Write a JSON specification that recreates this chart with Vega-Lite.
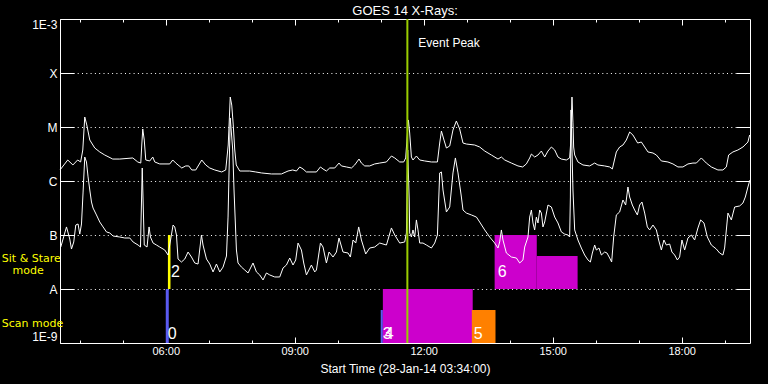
{
"$schema":"https://vega.github.io/schema/vega-lite/v6.json",
"width":690,"height":324,
"autosize":{"type":"none"},
"padding":{"left":60,"top":19,"right":18,"bottom":41},
"background":"black",
"title":{"text":"GOES 14 X-Rays:","color":"white","font":"Liberation Sans","fontSize":13,"fontWeight":"normal","anchor":"middle","baseline":"alphabetic","offset":-10},
"config":{"view":{"stroke":"white","strokeWidth":1},"axis":{"labelFont":"Liberation Sans","labelFontSize":11,"labelColor":"white","tickColor":"white","titleColor":"white","titleFont":"Liberation Sans","titleFontWeight":"normal","domain":false,"tickWidth":1}},
"datasets":{
"long":[
{"h":3.54,"f":1.6e-6},{"h":3.72,"f":2.45e-6},{"h":3.84,"f":1.98e-6},{"h":3.95,"f":2.45e-6},{"h":4.02,"f":2.25e-6},{"h":4.07,"f":3.75e-6},{"h":4.116,"f":1.53e-5},{"h":4.163,"f":1.09e-5},{"h":4.233,"f":5.74e-6},{"h":4.349,"f":4.08e-6},{"h":4.465,"f":3.45e-6},{"h":4.581,"f":3.03e-6},{"h":4.767,"f":2.55e-6},{"h":4.93,"f":2.55e-6},{"h":5.233,"f":2.67e-6},{"h":5.349,"f":2.25e-6},{"h":5.419,"f":2.15e-6},{"h":5.442,"f":4.64e-6},{"h":5.465,"f":9.18e-6},{"h":5.5,"f":5.74e-6},{"h":5.535,"f":2.45e-6},{"h":5.628,"f":2.35e-6},{"h":5.698,"f":2.78e-6},{"h":5.744,"f":2.25e-6},{"h":5.86,"f":2.07e-6},{"h":6.093,"f":2.07e-6},{"h":6.163,"f":2.45e-6},{"h":6.233,"f":2.15e-6},{"h":6.372,"f":1.74e-6},{"h":6.465,"f":1.9e-6},{"h":6.535,"f":1.9e-6},{"h":6.605,"f":1.6e-6},{"h":6.698,"f":1.6e-6},{"h":6.837,"f":2.45e-6},{"h":6.93,"f":1.98e-6},{"h":7.023,"f":1.74e-6},{"h":7.14,"f":1.6e-6},{"h":7.302,"f":1.47e-6},{"h":7.395,"f":1.6e-6},{"h":7.453,"f":4.64e-6},{"h":7.5,"f":3.59e-5},{"h":7.535,"f":2.55e-5},{"h":7.57,"f":1.09e-5},{"h":7.605,"f":3.75e-6},{"h":7.64,"f":1.98e-6},{"h":7.721,"f":1.53e-6},{"h":7.953,"f":1.53e-6},{"h":8.093,"f":1.47e-6},{"h":8.226,"f":1.41e-6},{"h":8.458,"f":1.35e-6},{"h":8.691,"f":1.35e-6},{"h":8.844,"f":1.53e-6},{"h":8.953,"f":1.6e-6},{"h":9.04,"f":1.53e-6},{"h":9.116,"f":1.82e-6},{"h":9.193,"f":1.67e-6},{"h":9.272,"f":1.47e-6},{"h":9.505,"f":1.47e-6},{"h":9.598,"f":1.82e-6},{"h":9.658,"f":1.67e-6},{"h":9.737,"f":1.53e-6},{"h":9.814,"f":1.74e-6},{"h":9.93,"f":1.74e-6},{"h":10.03,"f":2.15e-6},{"h":10.086,"f":1.9e-6},{"h":10.202,"f":1.82e-6},{"h":10.319,"f":1.74e-6},{"h":10.395,"f":1.98e-6},{"h":10.495,"f":2.55e-6},{"h":10.551,"f":2.15e-6},{"h":10.628,"f":1.9e-6},{"h":10.744,"f":1.9e-6},{"h":10.86,"f":2.07e-6},{"h":10.977,"f":2.15e-6},{"h":11.133,"f":2.25e-6},{"h":11.249,"f":2.9e-6},{"h":11.326,"f":2.67e-6},{"h":11.442,"f":2.25e-6},{"h":11.535,"f":2.25e-6},{"h":11.581,"f":2.67e-6},{"h":11.605,"f":5.05e-6},{"h":11.644,"f":1.35e-5},{"h":11.674,"f":7.74e-6},{"h":11.714,"f":2.78e-6},{"h":11.751,"f":2.45e-6},{"h":11.83,"f":2.9e-6},{"h":11.907,"f":2.45e-6},{"h":12.023,"f":2.35e-6},{"h":12.179,"f":2.25e-6},{"h":12.319,"f":2.25e-6},{"h":12.372,"f":5.05e-6},{"h":12.412,"f":8.43e-6},{"h":12.472,"f":5.74e-6},{"h":12.528,"f":4.08e-6},{"h":12.605,"f":4.45e-6},{"h":12.681,"f":8.8e-6},{"h":12.76,"f":1.29e-5},{"h":12.837,"f":9.18e-6},{"h":12.914,"f":5.05e-6},{"h":12.993,"f":4.84e-6},{"h":13.186,"f":4.64e-6},{"h":13.302,"f":4.26e-6},{"h":13.419,"f":3.59e-6},{"h":13.574,"f":3.03e-6},{"h":13.728,"f":2.55e-6},{"h":13.807,"f":2.78e-6},{"h":13.884,"f":2.45e-6},{"h":14.04,"f":2.15e-6},{"h":14.193,"f":1.9e-6},{"h":14.302,"f":1.82e-6},{"h":14.388,"f":2.07e-6},{"h":14.465,"f":2.67e-6},{"h":14.505,"f":3.16e-6},{"h":14.581,"f":2.78e-6},{"h":14.658,"f":3.03e-6},{"h":14.737,"f":3.59e-6},{"h":14.814,"f":2.78e-6},{"h":14.891,"f":3.59e-6},{"h":14.97,"f":4.26e-6},{"h":15.047,"f":3.75e-6},{"h":15.123,"f":2.78e-6},{"h":15.202,"f":2.55e-6},{"h":15.319,"f":2.45e-6},{"h":15.395,"f":2.67e-6},{"h":15.419,"f":5.05e-6},{"h":15.449,"f":3.59e-5},{"h":15.472,"f":1.19e-5},{"h":15.488,"f":4.26e-6},{"h":15.512,"f":3.03e-6},{"h":15.588,"f":2.25e-6},{"h":15.705,"f":1.98e-6},{"h":15.86,"f":1.9e-6},{"h":15.977,"f":2.15e-6},{"h":16.053,"f":1.98e-6},{"h":16.209,"f":1.9e-6},{"h":16.326,"f":1.82e-6},{"h":16.388,"f":1.67e-6},{"h":16.481,"f":3.45e-6},{"h":16.558,"f":4.26e-6},{"h":16.635,"f":4.64e-6},{"h":16.714,"f":5.74e-6},{"h":16.791,"f":8.08e-6},{"h":16.867,"f":7.1e-6},{"h":16.977,"f":5.05e-6},{"h":17.063,"f":5.27e-6},{"h":17.14,"f":4.26e-6},{"h":17.216,"f":3.45e-6},{"h":17.333,"f":3.3e-6},{"h":17.412,"f":3.03e-6},{"h":17.528,"f":2.35e-6},{"h":17.681,"f":2.25e-6},{"h":17.798,"f":2.07e-6},{"h":17.914,"f":1.82e-6},{"h":18.03,"f":1.82e-6},{"h":18.147,"f":2.07e-6},{"h":18.263,"f":2.15e-6},{"h":18.342,"f":2.15e-6},{"h":18.458,"f":2.67e-6},{"h":18.574,"f":2.15e-6},{"h":18.691,"f":1.82e-6},{"h":18.844,"f":1.6e-6},{"h":18.96,"f":1.6e-6},{"h":19.04,"f":1.82e-6},{"h":19.093,"f":3.03e-6},{"h":19.193,"f":3.45e-6},{"h":19.309,"f":3.75e-6},{"h":19.426,"f":4.26e-6},{"h":19.542,"f":5.27e-6},{"h":19.581,"f":7.1e-6}
],
"short":[
{"h":3.558,"f":5.99e-8},{"h":3.691,"f":1.41e-7},{"h":3.767,"f":8.43e-8},{"h":3.807,"f":5.5e-8},{"h":3.86,"f":7.42e-8},{"h":3.907,"f":1.53e-7},{"h":3.96,"f":1.6e-7},{"h":4.0,"f":1.04e-7},{"h":4.04,"f":1.6e-7},{"h":4.077,"f":6.25e-7},{"h":4.116,"f":2.78e-6},{"h":4.156,"f":2.25e-6},{"h":4.193,"f":1.19e-6},{"h":4.233,"f":6.81e-7},{"h":4.272,"f":4.08e-7},{"h":4.309,"f":3.16e-7},{"h":4.388,"f":2.35e-7},{"h":4.465,"f":1.74e-7},{"h":4.542,"f":1.41e-7},{"h":4.621,"f":1.14e-7},{"h":4.698,"f":1.09e-7},{"h":4.774,"f":9.58e-8},{"h":4.93,"f":9.18e-8},{"h":5.047,"f":8.8e-8},{"h":5.163,"f":8.8e-8},{"h":5.24,"f":7.42e-8},{"h":5.356,"f":6.52e-8},{"h":5.412,"f":5.99e-8},{"h":5.453,"f":1.74e-6},{"h":5.5,"f":6.52e-8},{"h":5.565,"f":5.99e-8},{"h":5.612,"f":1.41e-7},{"h":5.644,"f":9.18e-8},{"h":5.705,"f":7.1e-8},{"h":5.784,"f":6.52e-8},{"h":5.86,"f":5.99e-8},{"h":5.977,"f":5.27e-8},{"h":6.053,"f":4.26e-8},{"h":6.17,"f":1.53e-7},{"h":6.209,"f":1.41e-7},{"h":6.249,"f":1.0e-7},{"h":6.286,"f":3.59e-8},{"h":6.365,"f":3.16e-8},{"h":6.442,"f":3.59e-8},{"h":6.519,"f":4.84e-8},{"h":6.598,"f":3.91e-8},{"h":6.674,"f":3.03e-8},{"h":6.751,"f":2.9e-8},{"h":6.83,"f":1.0e-7},{"h":6.867,"f":6.52e-8},{"h":6.947,"f":3.59e-8},{"h":7.023,"f":2.9e-8},{"h":7.1,"f":2.07e-8},{"h":7.179,"f":2.9e-8},{"h":7.256,"f":2.07e-8},{"h":7.333,"f":2.55e-8},{"h":7.412,"f":4.08e-8},{"h":7.449,"f":2.15e-7},{"h":7.5,"f":1.47e-5},{"h":7.558,"f":3.75e-6},{"h":7.588,"f":6.81e-7},{"h":7.644,"f":5.27e-8},{"h":7.681,"f":3.03e-8},{"h":7.76,"f":2.55e-8},{"h":7.837,"f":2.25e-8},{"h":7.914,"f":1.98e-8},{"h":8.03,"f":3.03e-8},{"h":8.109,"f":2.07e-8},{"h":8.186,"f":1.82e-8},{"h":8.263,"f":1.47e-8},{"h":8.342,"f":1.98e-8},{"h":8.419,"f":1.82e-8},{"h":8.535,"f":1.67e-8},{"h":8.651,"f":1.67e-8},{"h":8.728,"f":2.45e-8},{"h":8.807,"f":2.78e-8},{"h":8.884,"f":3.75e-8},{"h":8.96,"f":2.78e-8},{"h":9.023,"f":3.45e-8},{"h":9.077,"f":7.1e-8},{"h":9.156,"f":5.27e-8},{"h":9.209,"f":3.03e-8},{"h":9.272,"f":1.82e-8},{"h":9.388,"f":2.78e-8},{"h":9.465,"f":2.07e-8},{"h":9.505,"f":2.25e-8},{"h":9.598,"f":7.1e-8},{"h":9.658,"f":5.99e-8},{"h":9.737,"f":3.03e-8},{"h":9.798,"f":4.84e-8},{"h":9.891,"f":3.91e-8},{"h":9.97,"f":4.84e-8},{"h":10.03,"f":8.8e-8},{"h":10.123,"f":4.84e-8},{"h":10.24,"f":4.64e-8},{"h":10.295,"f":3.91e-8},{"h":10.356,"f":8.08e-8},{"h":10.419,"f":7.1e-8},{"h":10.488,"f":1.41e-7},{"h":10.551,"f":8.08e-8},{"h":10.651,"f":4.45e-8},{"h":10.744,"f":5.74e-8},{"h":10.86,"f":5.99e-8},{"h":10.977,"f":7.1e-8},{"h":11.133,"f":6.52e-8},{"h":11.249,"f":1.35e-7},{"h":11.326,"f":1.0e-7},{"h":11.442,"f":7.1e-8},{"h":11.558,"f":7.42e-8},{"h":11.598,"f":1.09e-7},{"h":11.628,"f":3.75e-6},{"h":11.663,"f":4.45e-7},{"h":11.674,"f":1.09e-7},{"h":11.714,"f":9.18e-8},{"h":11.751,"f":1.24e-7},{"h":11.791,"f":9.18e-8},{"h":11.83,"f":1.9e-7},{"h":11.867,"f":1.24e-7},{"h":11.907,"f":7.1e-8},{"h":11.984,"f":7.1e-8},{"h":12.063,"f":6.52e-8},{"h":12.179,"f":5.74e-8},{"h":12.256,"f":7.1e-8},{"h":12.319,"f":1.0e-7},{"h":12.372,"f":1.41e-6},{"h":12.412,"f":1.47e-6},{"h":12.449,"f":6.81e-7},{"h":12.528,"f":2.67e-7},{"h":12.605,"f":3.3e-7},{"h":12.681,"f":1.41e-6},{"h":12.737,"f":2.67e-6},{"h":12.798,"f":1.41e-6},{"h":12.877,"f":5.05e-7},{"h":12.914,"f":2.9e-7},{"h":12.993,"f":2.55e-7},{"h":13.109,"f":2.35e-7},{"h":13.226,"f":2.15e-7},{"h":13.302,"f":1.74e-7},{"h":13.419,"f":1.24e-7},{"h":13.535,"f":9.18e-8},{"h":13.651,"f":7.1e-8},{"h":13.728,"f":5.74e-8},{"h":13.767,"f":7.42e-8},{"h":13.807,"f":1.24e-7},{"h":13.844,"f":8.08e-8},{"h":13.923,"f":4.64e-8},{"h":14.04,"f":3.91e-8},{"h":14.156,"f":3.75e-8},{"h":14.233,"f":3.03e-8},{"h":14.309,"f":3.45e-8},{"h":14.349,"f":5.99e-8},{"h":14.426,"f":9.18e-8},{"h":14.465,"f":2.15e-7},{"h":14.505,"f":2.9e-7},{"h":14.542,"f":1.67e-7},{"h":14.581,"f":1.24e-7},{"h":14.621,"f":2.15e-7},{"h":14.658,"f":1.67e-7},{"h":14.698,"f":2.9e-7},{"h":14.737,"f":2.55e-7},{"h":14.774,"f":1.41e-7},{"h":14.814,"f":1.74e-7},{"h":14.891,"f":3.59e-7},{"h":14.97,"f":3.3e-7},{"h":15.047,"f":2.15e-7},{"h":15.123,"f":1.67e-7},{"h":15.202,"f":1.14e-7},{"h":15.279,"f":1.04e-7},{"h":15.356,"f":1.0e-7},{"h":15.395,"f":9.18e-8},{"h":15.412,"f":5.05e-7},{"h":15.426,"f":2.07e-5},{"h":15.472,"f":6.81e-7},{"h":15.512,"f":1.24e-7},{"h":15.588,"f":8.08e-8},{"h":15.667,"f":5.74e-8},{"h":15.744,"f":4.26e-8},{"h":15.821,"f":3.45e-8},{"h":15.877,"f":3.16e-8},{"h":15.923,"f":4.64e-8},{"h":15.977,"f":6.52e-8},{"h":16.016,"f":5.27e-8},{"h":16.077,"f":5.74e-8},{"h":16.133,"f":4.26e-8},{"h":16.209,"f":4.84e-8},{"h":16.263,"f":4.64e-8},{"h":16.326,"f":3.75e-8},{"h":16.372,"f":3.16e-8},{"h":16.419,"f":9.18e-8},{"h":16.481,"f":2.35e-7},{"h":16.558,"f":2.67e-7},{"h":16.635,"f":4.45e-7},{"h":16.698,"f":3.59e-7},{"h":16.751,"f":7.74e-7},{"h":16.791,"f":5.05e-7},{"h":16.853,"f":3.59e-7},{"h":16.907,"f":2.9e-7},{"h":16.97,"f":2.35e-7},{"h":17.023,"f":3.59e-7},{"h":17.077,"f":4.08e-7},{"h":17.14,"f":2.55e-7},{"h":17.202,"f":1.41e-7},{"h":17.256,"f":1.24e-7},{"h":17.333,"f":1.53e-7},{"h":17.412,"f":1.24e-7},{"h":17.465,"f":8.08e-8},{"h":17.528,"f":5.27e-8},{"h":17.588,"f":8.08e-8},{"h":17.644,"f":6.52e-8},{"h":17.721,"f":6.81e-8},{"h":17.774,"f":4.84e-8},{"h":17.837,"f":4.26e-8},{"h":17.9,"f":3.45e-8},{"h":17.953,"f":3.91e-8},{"h":18.007,"f":8.08e-8},{"h":18.07,"f":5.27e-8},{"h":18.147,"f":8.8e-8},{"h":18.226,"f":1.0e-7},{"h":18.302,"f":8.08e-8},{"h":18.379,"f":1.35e-7},{"h":18.442,"f":1.9e-7},{"h":18.519,"f":1.67e-7},{"h":18.598,"f":9.18e-8},{"h":18.691,"f":6.52e-8},{"h":18.807,"f":5.5e-8},{"h":18.884,"f":4.64e-8},{"h":18.96,"f":4.26e-8},{"h":19.0,"f":5.74e-8},{"h":19.077,"f":2.55e-7},{"h":19.156,"f":1.9e-7},{"h":19.233,"f":3.3e-7},{"h":19.349,"f":3.45e-7},{"h":19.426,"f":3.91e-7},{"h":19.481,"f":5.05e-7},{"h":19.542,"f":7.74e-7},{"h":19.588,"f":1.04e-6}
],
"obs":[
{"obs":"0","label":"0","s":6.0,"e":6.07,"lo":1e-9,"hi":1e-8},
{"obs":"2","label":"2","s":6.05,"e":6.11,"lo":1e-8,"hi":1e-7},
{"obs":"3","label":"3","s":11.0,"e":11.05,"lo":1e-9,"hi":4.08e-9},
{"obs":"4","label":"4","s":11.05,"e":13.14,"lo":1e-9,"hi":1e-8},
{"obs":"5","label":"5","s":13.12,"e":13.67,"lo":1e-9,"hi":4.08e-9},
{"obs":"6","label":"6","s":13.65,"e":14.63,"lo":1e-8,"hi":1e-7},
{"obs":"6","label":"","s":14.63,"e":15.58,"lo":1e-8,"hi":4.08e-8}
],
"event":[{"h":11.62,"name":"Event Peak"}]
},
"resolve":{"axis":{"x":"independent","y":"independent"}},
"layer":[
{"data":{"name":"obs"},"mark":{"type":"rect"},
"encoding":{
"x":{"field":"s","type":"quantitative","scale":{"domain":[3.54,19.59],"nice":false,"zero":false},
"axis":{"orient":"bottom","values":[4,5,6,7,8,9,10,11,12,13,14,15,16,17,18,19],"labelExpr":"datum.value % 3 === 0 ? (datum.value < 10 ? '0' : '') + datum.value + ':00' : ''","labelOverlap":false,"tickSize":{"condition":{"test":"datum.value % 3 === 0","value":-6},"value":-3},"labelPadding":8,"grid":false,"title":"Start Time (28-Jan-14 03:34:00)","titleFontSize":12,"titlePadding":4}},
"x2":{"field":"e"},
"y":{"field":"lo","type":"quantitative","scale":{"type":"log","domain":[1e-9,1e-3],"nice":false},
"axis":{"orient":"left","values":[1e-9,1e-8,1e-7,1e-6,1e-5,1e-4,1e-3],"labelExpr":"datum.value > 5e-4 ? '1E-3' : datum.value > 5e-5 ? 'X' : datum.value > 5e-6 ? 'M' : datum.value > 5e-7 ? 'C' : datum.value > 5e-8 ? 'B' : datum.value > 5e-9 ? 'A' : '1E-9'","labelFlush":true,"labelOverlap":false,"labelFontSize":12,"tickSize":-14,"labelPadding":17,"grid":true,"gridColor":"white","gridOpacity":1,"gridDash":[1,3.3],"title":null}},
"y2":{"field":"hi"},
"color":{"field":"obs","type":"nominal","scale":{"domain":["0","2","3","4","5","6"],"range":["#5a5af0","#ffff00","#5a5af0","#cc00cc","#ff8000","#cc00cc"]},"legend":null}
}},
{"data":{"name":"long"},"mark":{"type":"line","color":"white","strokeWidth":1},
"encoding":{
"x":{"field":"h","type":"quantitative","axis":{"orient":"top","values":[4,5,6,7,8,9,10,11,12,13,14,15,16,17,18,19],"labels":false,"title":null,"grid":false,"tickSize":{"condition":{"test":"datum.value % 3 === 0","value":-6},"value":-3}}},
"y":{"field":"f","type":"quantitative","axis":{"orient":"right","values":[1e-8,1e-7,1e-6,1e-5,1e-4],"labels":false,"title":null,"grid":false,"tickSize":-14}}
}},
{"data":{"name":"short"},"mark":{"type":"line","color":"white","strokeWidth":1},
"encoding":{
"x":{"field":"h","type":"quantitative","axis":null},
"y":{"field":"f","type":"quantitative","axis":null}
}},
{"data":{"name":"event"},"mark":{"type":"rule","color":"#9acd00","strokeWidth":2},
"encoding":{"x":{"field":"h","type":"quantitative","axis":null}}},
{"data":{"name":"event"},"mark":{"type":"text","color":"white","font":"Liberation Sans","fontSize":12,"align":"left","baseline":"middle","dx":11},
"encoding":{"x":{"field":"h","type":"quantitative","axis":null},"y":{"datum":3.6e-4,"type":"quantitative","axis":null},"text":{"field":"name"}}},
{"data":{"name":"obs"},"transform":[{"filter":"datum.lo < 5e-9"}],"mark":{"type":"text","color":"white","font":"Liberation Sans","fontSize":16,"align":"left","baseline":"alphabetic","dx":2,"dy":-4},
"encoding":{"x":{"field":"s","type":"quantitative","axis":null},"y":{"field":"lo","type":"quantitative","axis":null},"text":{"field":"label"}}},
{"data":{"name":"obs"},"transform":[{"filter":"datum.lo >= 5e-9"}],"mark":{"type":"text","color":"white","font":"Liberation Sans","fontSize":16,"align":"left","baseline":"alphabetic","dx":3,"dy":-12},
"encoding":{"x":{"field":"s","type":"quantitative","axis":null},"y":{"field":"lo","type":"quantitative","axis":null},"text":{"field":"label"}}},
{"data":{"values":[{}]},"mark":{"type":"text","color":"#ffff00","font":"DejaVu Sans","fontSize":11,"align":"left","baseline":"middle"},
"encoding":{"x":{"datum":2.186,"type":"quantitative","axis":null},"y":{"datum":3.6e-8,"type":"quantitative","axis":null},"text":{"value":"Sit & Stare"}}},
{"data":{"values":[{}]},"mark":{"type":"text","color":"#ffff00","font":"DejaVu Sans","fontSize":11,"align":"left","baseline":"middle"},
"encoding":{"x":{"datum":2.435,"type":"quantitative","axis":null},"y":{"datum":2.15e-8,"type":"quantitative","axis":null},"text":{"value":"mode"}}},
{"data":{"values":[{}]},"mark":{"type":"text","color":"#ffff00","font":"DejaVu Sans","fontSize":11,"align":"left","baseline":"middle"},
"encoding":{"x":{"datum":2.186,"type":"quantitative","axis":null},"y":{"datum":2.25e-9,"type":"quantitative","axis":null},"text":{"value":"Scan mode"}}}
]
}
